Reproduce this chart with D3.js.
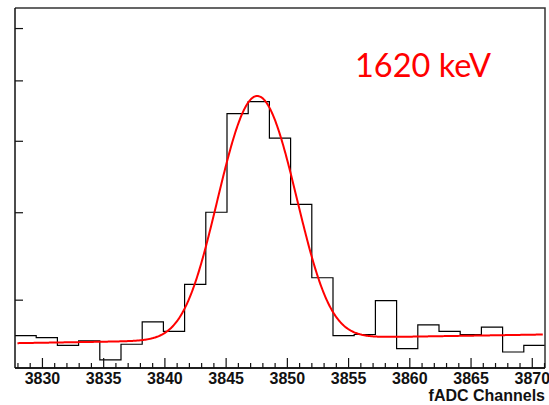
<!DOCTYPE html>
<html>
<head>
<meta charset="utf-8">
<script src="https://cdn.jsdelivr.net/npm/d3@7"></script>
<style>
  html, body { margin: 0; padding: 0; background: #fff; }
  svg { display: block; }
</style>
</head>
<body>
<svg id="chart" width="549" height="405"></svg>
<script>
// fADC spectrum around the 1620 keV line: binned counts plus a Gaussian + linear fit.
const histLow = 3827.8;          // lower edge of the first bin (fADC channel)
const binWidth = 1.7312;         // channels per bin
const binCounts = [
  365, 363, 356, 360, 343, 357, 378, 369, 416, 500,
  643, 663, 604, 510, 423, 365, 366, 399, 353, 375,
  369, 366, 373, 350, 356
];

// Fit result: constant + slope (relative to fitStart) + Gaussian peak
const fitStart = 3828.0;
const fitEnd = 3870.9;
const fitBg = 358;
const fitSlope = 0.186;
const fitAmp = 311;
const fitMean = 3847.58;
const fitSigma = 2.75;

const xTicksMajor = [3830, 3835, 3840, 3845, 3850, 3855, 3860, 3865, 3870];
const yDomain = [336, 842];
const yTicks = [400, 500, 600, 700, 800];
const xTitle = "fADC Channels";
const peakLabel = "1620 keV";

const frame = { left: 15, right: 545, top: 8, bottom: 368 };

const svg = d3.select("#chart");

const x = d3.scaleLinear()
  .domain([histLow, histLow + binCounts.length * binWidth])
  .range([frame.left, frame.right]);
const y = d3.scaleLog()
  .domain(yDomain)
  .range([frame.bottom, frame.top]);

// Histogram outline as a step line
const steps = [];
binCounts.forEach((c, i) => {
  const lo = histLow + i * binWidth;
  steps.push([lo, c], [lo + binWidth, c]);
});
svg.append("path")
  .attr("d", d3.line().x(d => x(d[0])).y(d => y(d[1]))(steps))
  .attr("fill", "none")
  .attr("stroke", "#000")
  .attr("stroke-width", 1.2);

// Fitted curve
const fitFn = ch => fitBg + fitSlope * (ch - fitStart) +
  fitAmp * Math.exp(-0.5 * Math.pow((ch - fitMean) / fitSigma, 2));
const fitPts = d3.range(fitStart, fitEnd + 1e-9, 0.05).map(ch => [ch, fitFn(ch)]);
svg.append("path")
  .attr("d", d3.line().x(d => x(d[0])).y(d => y(d[1]))(fitPts))
  .attr("fill", "none")
  .attr("stroke", "#ff0000")
  .attr("stroke-width", 2);

// Frame (top and right)
svg.append("path")
  .attr("d", `M${frame.left},${frame.top}H${frame.right}V${frame.bottom}`)
  .attr("fill", "none")
  .attr("stroke", "#333")
  .attr("stroke-width", 1.5);

// Bottom axis: minor ticks every channel, major every 5 channels, ticks point inward
const minorTicks = d3.range(Math.ceil(x.domain()[0]), Math.floor(x.domain()[1]) + 1)
  .filter(v => !xTicksMajor.includes(v));
const xAxisMajor = d3.axisBottom(x).tickValues(xTicksMajor).tickFormat(d3.format("d"))
  .tickSizeInner(-10).tickSizeOuter(0).tickPadding(5);
const xAxisMinor = d3.axisBottom(x).tickValues(minorTicks).tickFormat("")
  .tickSizeInner(-5).tickSizeOuter(0);

const gxMinor = svg.append("g").attr("transform", `translate(0,${frame.bottom})`).call(xAxisMinor);
const gx = svg.append("g").attr("transform", `translate(0,${frame.bottom})`).call(xAxisMajor);
[gx, gxMinor].forEach(g => {
  g.select(".domain").attr("stroke", "#111").attr("stroke-width", 1.5)
    .attr("d", `M${frame.left},0H${frame.right}`);
  g.selectAll(".tick line").attr("stroke", "#111").attr("stroke-width", 1.2);
});
gx.selectAll(".tick text")
  .attr("font-family", "'Liberation Sans', Arial, sans-serif")
  .attr("font-weight", "bold")
  .attr("font-size", 16)
  .attr("fill", "#111");

// Left axis: ticks only, no labels
const yAxis = d3.axisLeft(y).tickValues(yTicks).tickFormat("")
  .tickSizeInner(-8).tickSizeOuter(0);
const gy = svg.append("g").attr("transform", `translate(${frame.left},0)`).call(yAxis);
gy.select(".domain").attr("stroke", "#111").attr("stroke-width", 1.5)
  .attr("d", `M0,${frame.top}V${frame.bottom}`);
gy.selectAll(".tick line").attr("stroke", "#111").attr("stroke-width", 1.2);

// Axis title
svg.append("text")
  .attr("x", frame.right)
  .attr("y", 401)
  .attr("text-anchor", "end")
  .attr("font-family", "'Liberation Sans', Arial, sans-serif")
  .attr("font-weight", "bold")
  .attr("font-size", 16)
  .attr("fill", "#111")
  .text(xTitle);

// Peak annotation
svg.append("text")
  .attr("x", 355)
  .attr("y", 77)
  .attr("font-family", "Lato, 'Open Sans', sans-serif")
  .attr("font-size", 32.5)
  .attr("fill", "#ff0000")
  .text(peakLabel);
</script>
</body>
</html>
